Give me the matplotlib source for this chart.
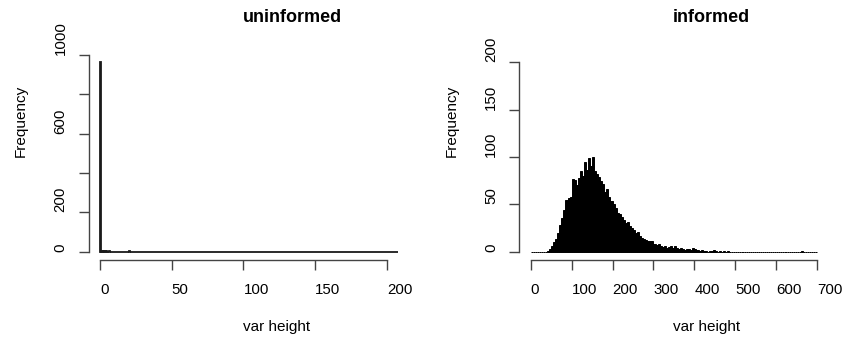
import matplotlib
matplotlib.use("Agg")
import matplotlib.pyplot as plt
import numpy as np

plt.rcParams['font.family'] = ['Liberation Sans', 'DejaVu Sans']

# ---------------- data ----------------
# uninformed: bin width 1, starting at 0
uninf_binwidth = 1
uninf_counts = [965, 5, 4, 4, 3, 2, 3, 1, 1, 0,
                1, 0, 0, 1, 0, 0, 0, 0, 1, 0,
                3, 1, 0, 0, 1, 0, 0, 0, 0, 0] + [0] * 180

# informed: bin width 5, starting at 0
inf_binwidth = 5
inf_counts = [0, 0, 0, 0, 0, 0, 0, 0, 1, 3,          # 0-45
              6, 10, 14, 20, 28, 36, 44, 55, 57, 58,  # 50-95
              77, 76, 70, 78, 85, 80, 95, 86, 99, 90, # 100-145
              100, 85, 82, 79, 75, 72, 63, 66, 58, 54,  # 150-195
              50, 46, 41, 40, 37, 34, 30, 31, 27, 25,   # 200-245
              23, 20, 21, 17, 15, 14, 13, 12, 11, 12,   # 250-295
              8, 7, 8, 6, 5, 6, 4, 5, 6, 4,             # 300-345
              6, 4, 3, 4, 3, 2, 3, 3, 2, 4,             # 350-395
              3, 2, 1, 2, 1, 1, 0, 1, 1, 2,             # 400-445
              1, 0, 1, 0, 1, 0, 1, 0, 0, 0,             # 450-495
              0, 0, 0, 0, 0, 0, 0, 0, 0, 0,             # 500-545
              0, 0, 0, 0, 0, 0, 0, 0, 0, 0,             # 550-595
              0, 0, 0, 0, 0, 0, 0, 0, 0, 0,             # 600-645
              0, 0, 1, 0, 0, 0, 0, 0, 0, 0]             # 650-695

titles = ["uninformed", "informed"]
xlabel = "var height"
ylabel = "Frequency"
left_xticks = [0, 50, 100, 150, 200]
left_yticks = [0, 200, 400, 600, 800, 1000]
left_ylabels = ["0", "200", "", "600", "", "1000"]
right_xticks = [0, 100, 200, 300, 400, 500, 600, 700]
right_yticks = [0, 50, 100, 150, 200]

# ---------------- figure ----------------
W, H = 843, 337
fig = plt.figure(figsize=(W / 100, H / 100), dpi=100)

def px(x0, y0, x1, y1):
    return [x0 / W, 1 - y1 / H, (x1 - x0) / W, (y1 - y0) / H]

axL = fig.add_axes(px(88.5, 54.5, 398.3, 259.5))
axR = fig.add_axes(px(519.2, 54.5, 828.7, 259.5))

# left histogram
edgesL = np.arange(len(uninf_counts)) * uninf_binwidth
axL.bar(edgesL, uninf_counts, width=uninf_binwidth, align='edge',
        facecolor='white', edgecolor='#1a1a1a', linewidth=1.3)
axL.set_xlim(-8, 208)
axL.set_ylim(-38.6, 1002)

# right histogram
edgesR = np.arange(len(inf_counts)) * inf_binwidth
axR.bar(edgesR, inf_counts, width=inf_binwidth, align='edge',
        facecolor='black', edgecolor='black', linewidth=0.7)
axR.set_xlim(-28, 728)
axR.set_ylim(-8, 208)

def style(ax, xt, yt, ylabs):
    for s in ['top', 'right']:
        ax.spines[s].set_visible(False)
    ax.spines['left'].set_bounds(yt[0], yt[-1])
    ax.spines['bottom'].set_bounds(xt[0], xt[-1])
    for s in ['left', 'bottom']:
        ax.spines[s].set_color('#444444')
        ax.spines[s].set_linewidth(1.0)
    ax.set_xticks(xt)
    ax.set_xticklabels([str(v) for v in xt])
    ax.set_yticks(yt)
    ax.set_yticklabels(ylabs)
    ax.tick_params(axis='both', direction='out', length=7, width=1.0,
                   color='#444444', labelsize=10.8, labelcolor='black')
    ax.tick_params(axis='x', pad=10)
    ax.tick_params(axis='y', pad=8)
    for lbl in ax.get_xticklabels():
        lbl.set_ha('left')
    for lbl in ax.get_yticklabels():
        lbl.set_rotation(90)
        lbl.set_va('bottom')
        lbl.set_ha('right')

style(axL, left_xticks, left_yticks, left_ylabels)
style(axR, right_xticks, right_yticks, [str(v) for v in right_yticks])

def ftext(x, y, s, **kw):
    fig.text(x / W, 1 - y / H, s, **kw)

# titles
ftext(243, 17, titles[0], fontsize=13, fontweight='bold', ha='left', va='center')
ftext(673, 17, titles[1], fontsize=13, fontweight='bold', ha='left', va='center')
# x labels
ftext(243, 327, xlabel, fontsize=11, ha='left', va='center')
ftext(673, 327, xlabel, fontsize=11, ha='left', va='center')
# y labels
ftext(21, 157, ylabel, fontsize=11, rotation=90, ha='center', va='bottom')
ftext(451.5, 157, ylabel, fontsize=11, rotation=90, ha='center', va='bottom')

fig.savefig("out.png", dpi=100)
